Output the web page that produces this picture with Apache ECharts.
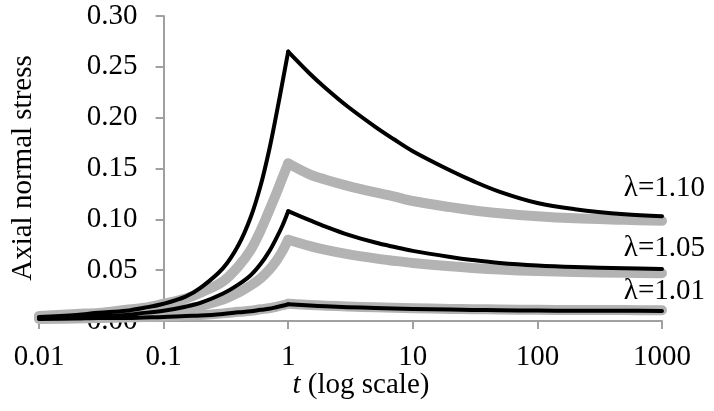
<!DOCTYPE html>
<html>
<head>
<meta charset="utf-8">
<script src="https://cdn.jsdelivr.net/npm/echarts@6/dist/echarts.min.js"></script>
<style>
  html, body { margin: 0; padding: 0; background: #fff; }
  #chart { width: 714px; height: 411px; }
</style>
</head>
<body>
<div id="chart"></div>
<script>
// time points (log scale), loading ramp up to t=1 then relaxation
const tValues = [0.01, 0.02, 0.03, 0.05, 0.07, 0.1, 0.15, 0.2, 0.3, 0.4, 0.5, 0.6, 0.7, 0.8, 0.9, 1,
  1.5, 2, 3, 5, 7, 10, 20, 30, 50, 100, 200, 500, 1000]
const PEAK = tValues.indexOf(1)

// black (thin) curves
const black110 = [0.004, 0.006, 0.008, 0.010, 0.013, 0.017, 0.024, 0.033, 0.052, 0.075, 0.102, 0.133, 0.167, 0.202, 0.235, 0.265,
  0.243, 0.229, 0.211, 0.191, 0.179, 0.167, 0.148, 0.138, 0.127, 0.116, 0.110, 0.105, 0.103]
const black105 = [0.003, 0.004, 0.005, 0.006, 0.008, 0.010, 0.014, 0.018, 0.027, 0.036, 0.045, 0.056, 0.068, 0.081, 0.094, 0.108,
  0.099, 0.0928, 0.085, 0.0772, 0.073, 0.069, 0.063, 0.060, 0.057, 0.0545, 0.053, 0.0518, 0.0512]
const black101 = [0.002, 0.0025, 0.003, 0.003, 0.0035, 0.004, 0.005, 0.0055, 0.007, 0.0085, 0.0095, 0.011, 0.012, 0.0135, 0.015, 0.0165,
  0.0152, 0.0145, 0.0136, 0.0128, 0.0123, 0.0119, 0.0112, 0.0109, 0.0106, 0.0103, 0.0101, 0.0100, 0.0099]

// grey (thick) curves
const gray110 = [0.005, 0.007, 0.008, 0.011, 0.013, 0.017, 0.022, 0.028, 0.039, 0.054, 0.070, 0.089, 0.108, 0.125, 0.141, 0.155,
  0.144, 0.139, 0.133, 0.1265, 0.1227, 0.118, 0.112, 0.109, 0.106, 0.103, 0.101, 0.0995, 0.0985]
const gray105 = [0.004, 0.005, 0.005, 0.006, 0.008, 0.010, 0.012, 0.015, 0.021, 0.028, 0.035, 0.042, 0.050, 0.059, 0.069, 0.080,
  0.0737, 0.070, 0.0658, 0.0616, 0.0593, 0.0571, 0.0538, 0.0522, 0.0506, 0.0491, 0.0482, 0.0474, 0.047]
const gray101 = [0.002, 0.0025, 0.003, 0.0035, 0.004, 0.0045, 0.0055, 0.006, 0.0075, 0.009, 0.010, 0.0115, 0.0125, 0.014, 0.0155, 0.017,
  0.0158, 0.0151, 0.0143, 0.0135, 0.013, 0.0126, 0.0119, 0.0116, 0.0113, 0.011, 0.0108, 0.0107, 0.0106]

const lambdaLabels = ['λ=1.10', 'λ=1.05', 'λ=1.01']

const FONT = '"Liberation Serif", "Times New Roman", serif'
const FS = 29
const AXIS_GRAY = '#a0a0a0'
const GRID_LEFT = 39, GRID_RIGHT = 52
const decadeWidth = (714 - GRID_LEFT - GRID_RIGHT) / 5   // y axis sits at t = 0.1

const pairs = (ys, from, to) => tValues.slice(from, to).map((t, i) => [t, ys[from + i]])

// each curve = ramp part + relaxation part, so the peak at t=1 stays sharp
const curve = (name, ys, color, width, z) => [0, 1].map(part => ({
  name, type: 'line',
  data: part === 0 ? pairs(ys, 0, PEAK + 1) : pairs(ys, PEAK, tValues.length),
  smooth: 0.35, showSymbol: false, symbol: 'none',
  lineStyle: { color, width, cap: 'round', join: 'round' }, z, animation: false
}))

const chart = echarts.init(document.getElementById('chart'))
chart.setOption({
  animation: false,
  backgroundColor: '#fff',
  grid: { left: GRID_LEFT, right: GRID_RIGHT, top: 16, bottom: 90 },
  xAxis: {
    type: 'log', logBase: 10, min: 0.01, max: 1000,
    axisLine: { lineStyle: { color: AXIS_GRAY, width: 2 } },
    axisTick: { show: true, length: 8, lineStyle: { color: AXIS_GRAY, width: 2 } },
    minorTick: { show: false },
    splitLine: { show: false },
    axisLabel: {
      color: '#000', fontFamily: FONT, fontSize: FS, margin: 22,
      formatter: v => String(Number(v.toPrecision(6)))
    }
  },
  yAxis: {
    type: 'value', min: 0, max: 0.3, interval: 0.05,
    offset: -decadeWidth,
    axisLine: { show: true, lineStyle: { color: AXIS_GRAY, width: 2 } },
    axisTick: { show: true, length: 8, lineStyle: { color: AXIS_GRAY, width: 2 } },
    splitLine: { show: false },
    axisLabel: {
      color: '#000', fontFamily: FONT, fontSize: FS, margin: 26,
      formatter: v => v.toFixed(2)
    }
  },
  graphic: [
    {
      type: 'text', x: 23, y: 168, rotation: Math.PI / 2,
      style: { text: 'Axial normal stress', font: FS + 'px ' + FONT, fill: '#000', textAlign: 'center', textVerticalAlign: 'middle' }
    },
    {
      type: 'text', x: 361, y: 385,
      style: {
        text: '{i|t} (log scale)', font: FS + 'px ' + FONT, fill: '#000', textAlign: 'center', textVerticalAlign: 'middle',
        rich: { i: { fontStyle: 'italic', fontFamily: FONT, fontSize: FS, fill: '#000' } }
      }
    },
    { type: 'text', x: 705, y: 188, style: { text: lambdaLabels[0], font: FS + 'px ' + FONT, fill: '#000', textAlign: 'right', textVerticalAlign: 'middle' } },
    { type: 'text', x: 705, y: 248, style: { text: lambdaLabels[1], font: FS + 'px ' + FONT, fill: '#000', textAlign: 'right', textVerticalAlign: 'middle' } },
    { type: 'text', x: 705, y: 291, style: { text: lambdaLabels[2], font: FS + 'px ' + FONT, fill: '#000', textAlign: 'right', textVerticalAlign: 'middle' } }
  ],
  series: [
    ...curve('gray 1.10', gray110, '#b3b3b3', 10, 2),
    ...curve('gray 1.05', gray105, '#b3b3b3', 10, 2),
    ...curve('gray 1.01', gray101, '#b3b3b3', 10, 2),
    ...curve('black 1.10', black110, '#000', 4, 3),
    ...curve('black 1.05', black105, '#000', 4, 3),
    ...curve('black 1.01', black101, '#000', 4, 3)
  ]
})
</script>
</body>
</html>
